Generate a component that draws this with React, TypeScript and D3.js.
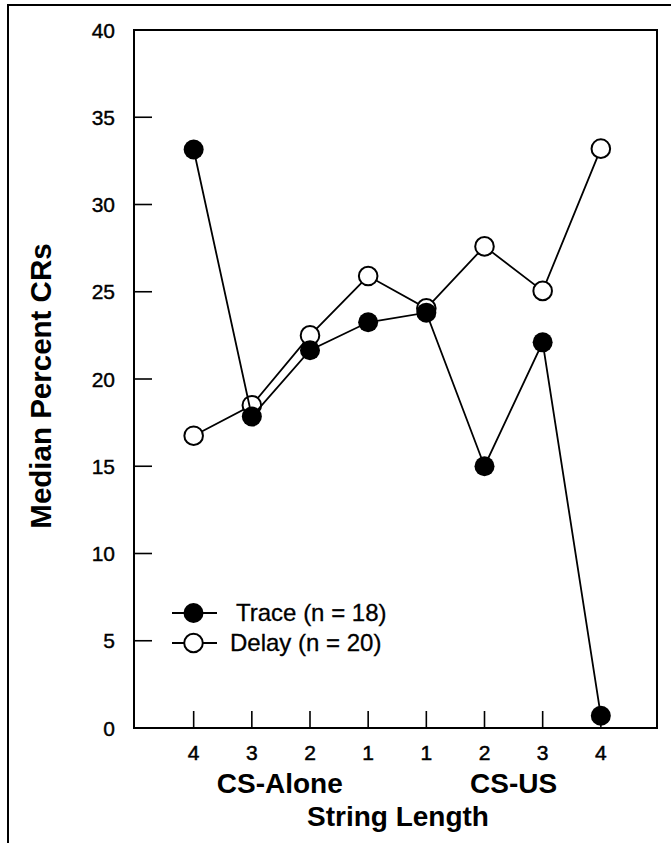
import React from "react";
import * as d3 from "d3";

const positions = [1, 2, 3, 4, 5, 6, 7, 8];
const tickLabels = ["4", "3", "2", "1", "1", "2", "3", "4"];
const traceValues = [33.15, 17.85, 21.65, 23.25, 23.8, 15.0, 22.1, 0.7];
const delayValues = [16.75, 18.5, 22.5, 25.9, 24.05, 27.6, 25.05, 33.2];
const yTicks = [0, 5, 10, 15, 20, 25, 30, 35, 40];
const groupLabels = [
  { label: "CS-Alone", at: 2.48 },
  { label: "CS-US", at: 6.5 },
];

const W = 671;
const H = 843;
const L = 134;
const R = 657;
const T = 30;
const B = 728;

export default function App() {
  const x = d3.scaleLinear().domain([0, 9]).range([135.5, 659]);
  const y = d3.scaleLinear().domain([0, 40]).range([B, T]);
  const line = d3
    .line<number>()
    .x((_, i) => x(positions[i]))
    .y((d) => y(d));
  const font = "Arial, 'Liberation Sans', Helvetica, sans-serif";

  return (
    <svg
      width={W}
      height={H}
      style={{ position: "absolute", left: 0, top: 0, background: "#fff" }}
      fontFamily={font}
    >
      <rect x={0} y={0} width={W} height={H} fill="#fff" />
      {/* outer frame */}
      <path d={`M8,${H} V5 H${W}`} fill="none" stroke="#000" strokeWidth={2} />
      {/* plot box */}
      <rect x={L} y={T} width={R - L} height={B - T} fill="none" stroke="#000" strokeWidth={2} />
      {/* y ticks */}
      {yTicks.map((t) => (
        <g key={t}>
          {t > 0 && t < 40 && (
            <line x1={L} x2={L + 18} y1={y(t)} y2={y(t)} stroke="#000" strokeWidth={1.6} />
          )}
          <text x={115} y={y(t)} dy="0.36em" textAnchor="end" fontSize={21} stroke="#000" strokeWidth={0.4}>
            {t}
          </text>
        </g>
      ))}
      {/* x ticks */}
      {positions.map((p, i) => (
        <g key={i}>
          <line x1={x(p)} x2={x(p)} y1={B} y2={B - 17} stroke="#000" strokeWidth={1.6} />
          <text x={x(p)} y={760} textAnchor="middle" fontSize={21} stroke="#000" strokeWidth={0.5}>
            {tickLabels[i]}
          </text>
        </g>
      ))}
      {groupLabels.map((g) => (
        <text key={g.label} x={x(g.at)} y={793} textAnchor="middle" fontSize={28} fontWeight="bold">
          {g.label}
        </text>
      ))}
      <text x={398} y={826} textAnchor="middle" fontSize={28} fontWeight="bold">
        String Length
      </text>
      <text
        transform={`translate(51,386) rotate(-90)`}
        textAnchor="middle"
        fontSize={29.5}
        fontWeight="bold"
      >
        Median Percent CRs
      </text>
      {/* delay series */}
      <path d={line(delayValues) || ""} fill="none" stroke="#000" strokeWidth={1.8} />
      {delayValues.map((v, i) => (
        <circle key={"d" + i} cx={x(positions[i])} cy={y(v)} r={9.3} fill="#fff" stroke="#000" strokeWidth={2} />
      ))}
      {/* trace series */}
      <path d={line(traceValues) || ""} fill="none" stroke="#000" strokeWidth={1.8} />
      {traceValues.map((v, i) => (
        <circle key={"t" + i} cx={x(positions[i])} cy={y(v)} r={10} fill="#000" />
      ))}
      {/* legend */}
      <line x1={172} x2={217} y1={613} y2={613} stroke="#000" strokeWidth={1.8} />
      <circle cx={193.5} cy={613} r={10} fill="#000" />
      <text x={236} y={621} fontSize={24} stroke="#000" strokeWidth={0.3}>Trace (n = 18)</text>
      <line x1={172} x2={217} y1={643} y2={643} stroke="#000" strokeWidth={1.8} />
      <circle cx={193.5} cy={643} r={9.3} fill="#fff" stroke="#000" strokeWidth={2} />
      <text x={230} y={651} fontSize={24} stroke="#000" strokeWidth={0.3}>Delay (n = 20)</text>
    </svg>
  );
}
